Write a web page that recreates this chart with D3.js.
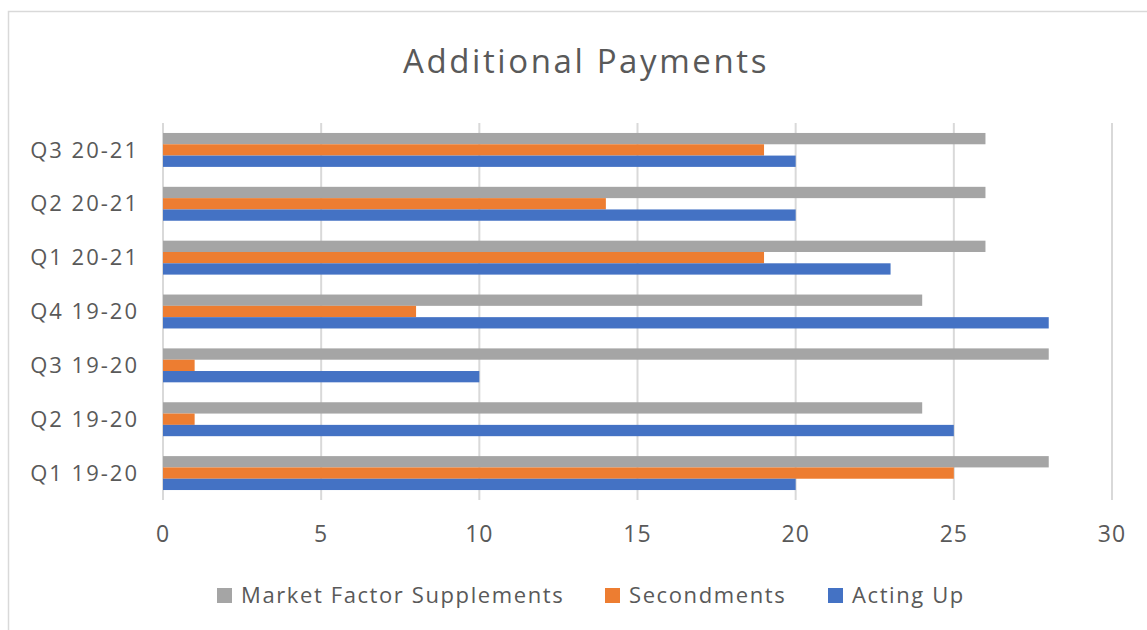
<!DOCTYPE html>
<html>
<head>
<meta charset="utf-8">
<script src="https://cdn.jsdelivr.net/npm/d3@7"></script>
<style>
  html, body { margin: 0; padding: 0; background: #fff; }
  svg { display: block; font-family: "Open Sans", sans-serif; }
</style>
</head>
<body>
<svg id="chart" width="1147" height="630"></svg>
<script>
// categories, top to bottom as drawn
const categories = ['Q3 20-21', 'Q2 20-21', 'Q1 20-21', 'Q4 19-20', 'Q3 19-20', 'Q2 19-20', 'Q1 19-20'];
const seriesNames = ['Market Factor Supplements', 'Secondments', 'Acting Up'];
const seriesColors = ['#a5a5a5', '#ed7d31', '#4472c4'];

const marketFactor = [26, 26, 26, 24, 28, 24, 28];
const secondments = [19, 14, 19, 8, 1, 1, 25];
const actingUp = [20, 20, 23, 28, 10, 25, 20];

const xTicks = [0, 5, 10, 15, 20, 25, 30];

// legend order as shown
const legendOrder = ['Market Factor Supplements', 'Secondments', 'Acting Up'];

(function(){
  const svg = d3.select('#chart');
  const W = 1147, H = 630;
  const textColor = '#595959';

  // outer chart border (runs off right and bottom edge)
  svg.append('rect')
    .attr('x', 8.5).attr('y', 11.5)
    .attr('width', W + 10).attr('height', H + 10)
    .attr('fill', 'none').attr('stroke', '#d9d9d9').attr('stroke-width', 1.5);

  const plot = {left: 163, right: 1112, top: 123, bottom: 500};

  const x = d3.scaleLinear().domain([0, 30]).range([plot.left, plot.right]);
  const y = d3.scaleBand().domain(categories).range([plot.top, plot.bottom])
    .paddingInner(0.37).paddingOuter(0.185);
  const ySub = d3.scaleBand().domain(seriesNames).range([0, y.bandwidth()]);

  // title
  svg.append('text')
    .attr('x', 586).attr('y', 73)
    .attr('text-anchor', 'middle')
    .style('font-size', '33px')
    .style('letter-spacing', '2.6px')
    .style('fill', textColor)
    .text('Additional Payments');

  // vertical gridlines
  svg.append('g').selectAll('line').data(xTicks).join('line')
    .attr('x1', d => x(d)).attr('x2', d => x(d))
    .attr('y1', plot.top).attr('y2', plot.bottom)
    .attr('stroke', '#d9d9d9').attr('stroke-width', 2);

  // bars
  const rows = categories.map((c, i) => ({
    cat: c,
    vals: [marketFactor[i], secondments[i], actingUp[i]]
  }));

  const groups = svg.append('g').selectAll('g').data(rows).join('g')
    .attr('transform', d => `translate(0,${y(d.cat)})`);

  groups.selectAll('rect').data(d => d.vals.map((v, j) => ({name: seriesNames[j], value: v, color: seriesColors[j]})))
    .join('rect')
    .attr('x', x(0))
    .attr('y', d => ySub(d.name))
    .attr('width', d => x(d.value) - x(0))
    .attr('height', ySub.bandwidth())
    .attr('fill', d => d.color);

  // category labels
  svg.append('g').selectAll('text').data(categories).join('text')
    .attr('x', 139)
    .attr('y', d => y(d) + y.bandwidth() / 2)
    .attr('dy', '0.35em')
    .attr('text-anchor', 'end')
    .style('font-size', '22px')
    .style('letter-spacing', '2px')
    .style('fill', textColor)
    .text(d => d);

  // x tick labels
  svg.append('g').selectAll('text').data(xTicks).join('text')
    .attr('x', d => x(d))
    .attr('y', 542)
    .attr('text-anchor', 'middle')
    .style('font-size', '23px')
    .style('letter-spacing', '1px')
    .style('fill', textColor)
    .text(d => d);

  // legend
  const legendX = [217, 605, 828];
  const legend = svg.append('g').selectAll('g').data(legendOrder).join('g')
    .attr('transform', (d, i) => `translate(${legendX[i]},588)`);
  legend.append('rect')
    .attr('width', 15).attr('height', 15)
    .attr('fill', d => seriesColors[seriesNames.indexOf(d)]);
  legend.append('text')
    .attr('x', 24).attr('y', 15)
    .style('font-size', '22px')
    .style('letter-spacing', '1.6px')
    .style('fill', textColor)
    .text(d => d);
})();
</script>
</body>
</html>
